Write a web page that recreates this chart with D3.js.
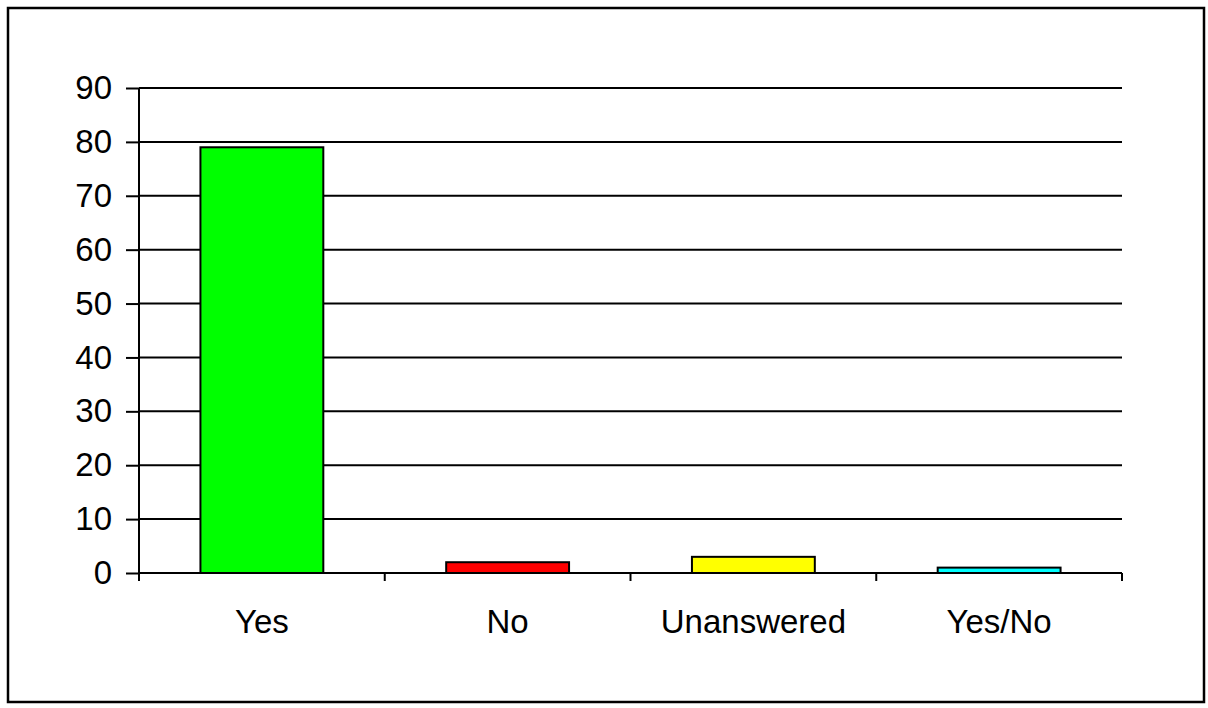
<!DOCTYPE html>
<html>
<head>
<meta charset="utf-8">
<script src="https://cdn.jsdelivr.net/npm/d3@7"></script>
<style>
  body { margin: 0; background: #fff; }
  text { font-family: "Liberation Sans", Arial, sans-serif; }
</style>
</head>
<body>
<div id="chart"></div>
<script>
// answers and counts
const categories = ["Yes", "No", "Unanswered", "Yes/No"];
const counts = [79, 2, 3, 1];
const barColors = ["#00ff00", "#ff0000", "#ffff00", "#00ffff"];
const yTicks = [0, 10, 20, 30, 40, 50, 60, 70, 80, 90];

const width = 1208, height = 708;
const margin = { top: 88, right: 86, bottom: 135, left: 139 };
const innerW = width - margin.left - margin.right;
const innerH = height - margin.top - margin.bottom;
const fontSize = 33;

const svg = d3.select("#chart").append("svg")
    .attr("width", width)
    .attr("height", height);

// outer frame
svg.append("rect")
    .attr("x", 8).attr("y", 8)
    .attr("width", 1196).attr("height", 694)
    .attr("fill", "#fff")
    .attr("stroke", "#000")
    .attr("stroke-width", 2.5);

const g = svg.append("g").attr("transform", `translate(${margin.left},${margin.top})`);

const x = d3.scaleBand().domain(categories).range([0, innerW]).paddingInner(0.5).paddingOuter(0.25);
const y = d3.scaleLinear().domain([0, 90]).range([innerH, 0]);

// gridlines
g.selectAll("line.grid")
    .data(yTicks.filter(d => d > 0))
    .enter().append("line")
    .attr("class", "grid")
    .attr("x1", 0).attr("x2", innerW)
    .attr("y1", d => y(d)).attr("y2", d => y(d))
    .attr("stroke", "#000").attr("stroke-width", 2);

// bars
g.selectAll("rect.bar")
    .data(categories)
    .enter().append("rect")
    .attr("class", "bar")
    .attr("x", d => x(d))
    .attr("y", (d, i) => y(counts[i]))
    .attr("width", x.bandwidth())
    .attr("height", (d, i) => innerH - y(counts[i]))
    .attr("fill", (d, i) => barColors[i])
    .attr("stroke", "#000")
    .attr("stroke-width", 2);

// y axis
const yAxis = d3.axisLeft(y).tickValues(yTicks).tickSize(13).tickPadding(14);
const ya = g.append("g").call(yAxis);
ya.select(".domain").attr("stroke-width", 2).attr("d", `M0,${innerH + 8}V0`);
ya.selectAll(".tick line").attr("stroke-width", 2);
ya.selectAll("text").attr("font-size", fontSize).attr("fill", "#000")
    .attr("font-family", "'Liberation Sans', Arial, sans-serif");

// x axis, ticks sit between the categories
const xa = g.append("g").attr("transform", `translate(0,${innerH})`);
xa.append("line").attr("x1", 0).attr("x2", innerW)
    .attr("stroke", "#000").attr("stroke-width", 2);
const step = x.step();
xa.selectAll("line.xtick")
    .data(d3.range(categories.length + 1))
    .enter().append("line")
    .attr("class", "xtick")
    .attr("x1", i => i * step).attr("x2", i => i * step)
    .attr("y1", 0).attr("y2", 8)
    .attr("stroke", "#000").attr("stroke-width", 2);
xa.selectAll("text")
    .data(categories)
    .enter().append("text")
    .attr("x", d => x(d) + x.bandwidth() / 2)
    .attr("y", 60)
    .attr("text-anchor", "middle")
    .attr("font-size", fontSize)
    .text(d => d);
</script>
</body>
</html>
